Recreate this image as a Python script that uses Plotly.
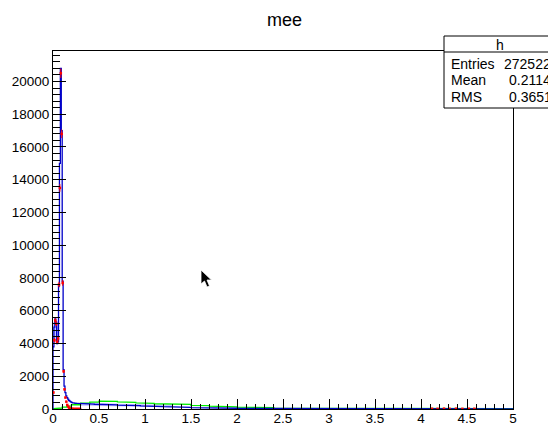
import plotly.graph_objects as go

# ---------------- data ----------------
# fine bins (width 0.01) from 0 to 0.30
fine_edges = [round(i * 0.01, 2) for i in range(31)]
blue_fine = [3800, 5000, 5500, 5300, 4000, 4100, 7500, 15000, 20800, 17000,
             7800, 2400, 1400, 1000, 800, 700, 600, 520, 480, 440,
             400, 380, 370, 360, 350, 340, 340, 330, 330, 320]
red_fine = [1000, 4200, 5400, 5200, 4100, 4300, 7600, 13500, 20500, 16800,
            7700, 2300, 1200, 700, 450, 250, 150, 80, 40, 20,
            10, 5, 0, 0, 0, 0, 0, 0, 0, 0]
# coarse bins (width 0.05) from 0.30 to 5.00
coarse_edges = [round(0.30 + i * 0.05, 2) for i in range(95)]
blue_coarse = [330, 310, 300, 290,
               280, 270, 260, 250, 240, 230, 220, 210, 200, 190,
               180, 170, 160, 150, 140, 130, 120, 110, 100, 95,
               90, 85, 80, 75, 70, 65, 60, 55, 50, 45,
               40, 38, 36, 34, 32, 30, 28, 26, 24, 22,
               20, 20, 19, 18, 18, 17, 16, 16, 15, 15,
               14, 14, 13, 13, 12, 12, 11, 11, 10, 10,
               10, 9, 9, 9, 8, 8, 8, 7, 7, 7,
               7, 6, 6, 6, 6, 6, 5, 5, 5, 5,
               5, 5, 4, 4, 4, 4, 4, 4, 4, 4]
green_edges = [0.0, 0.05, 0.1, 0.15, 0.2, 0.3, 0.4, 0.5, 0.6, 0.7, 0.8, 0.9, 1.0,
               1.1, 1.2, 1.3, 1.4, 1.5, 1.6, 1.7, 1.8, 1.9, 2.0, 2.2, 2.4,
               2.6, 3.0, 3.5, 4.0, 4.5, 5.0]
green_vals = [20, 60, 110, 180, 260, 350, 420, 480, 470, 430, 400, 370, 340,
              320, 310, 300, 280, 220, 200, 170, 150, 130, 110, 80, 50,
              35, 30, 25, 20, 15]
# light blue band (two regions)
band1_edges = [0.0, 0.01, 0.02, 0.03, 0.04, 0.05, 0.06]
band1_lo = [3900, 4000, 4100, 4000, 3900, 4000]
band1_hi = [5300, 5500, 5600, 5400, 5200, 5000]
band2_edges = [0.3, 0.4, 0.5, 0.6, 0.7, 0.8, 0.9, 1.0, 1.1, 1.2, 1.3]
band2_lo = [200, 190, 180, 170, 160, 150, 140, 130, 120, 110]
band2_hi = [380, 360, 350, 340, 320, 300, 290, 280, 270, 260]
# red points near zero at high mass
red_tail_x = [4.12, 4.18, 4.25, 4.31, 4.38, 4.45, 4.52, 4.58]
red_tail_y = [15, 10, 20, 12, 18, 10, 15, 12]

x_ticks = [0, 0.5, 1, 1.5, 2, 2.5, 3, 3.5, 4, 4.5, 5]
x_ticklabels = ["0", "0.5", "1", "1.5", "2", "2.5", "3", "3.5", "4", "4.5", "5"]
y_ticks = list(range(0, 20001, 2000))
y_ticklabels = [str(v) for v in y_ticks]

stats_name = "h"
stats_labels = ["Entries", "Mean", "RMS"]
stats_values = ["272522", "0.2114", "0.3651"]
title = "mee"

# ---------------- helpers ----------------
def step(edges, vals):
    xs, ys = [], []
    for i, v in enumerate(vals):
        xs += [edges[i], edges[i + 1]]
        ys += [v, v]
    return xs, ys

W, H = 548, 426
L, R, T, B = 53, 35, 51, 17
PW, PH = W - L - R, H - T - B

def px(x):
    return (x - L) / PW

def py(y):
    return (H - B - y) / PH

FONT = "Liberation Sans, Arial"

fig = go.Figure()

# light blue bands
for edges, lo, hi in [(band1_edges, band1_lo, band1_hi), (band2_edges, band2_lo, band2_hi)]:
    xl, yl = step(edges, lo)
    xh, yh = step(edges, hi)
    fig.add_trace(go.Scatter(x=xh + xl[::-1], y=yh + yl[::-1], fill="toself",
                             fillcolor="rgba(150,150,255,0.55)", line=dict(width=0),
                             mode="lines", hoverinfo="skip", showlegend=False))

# green
gx, gy = step(green_edges, green_vals)
fig.add_trace(go.Scatter(x=gx, y=gy, mode="lines", line=dict(color="#00ee00", width=1.3),
                         showlegend=False))

# blue histogram
bx1, by1 = step(fine_edges, blue_fine)
bx2, by2 = step(coarse_edges, blue_coarse)
fig.add_trace(go.Scatter(x=[0] + bx1 + bx2, y=[0] + by1 + by2, mode="lines",
                         line=dict(color="#0000c8", width=1.3), showlegend=False))

# red error points
rx = [(fine_edges[i] + fine_edges[i + 1]) / 2 for i in range(len(red_fine))]
rerr = [max(v, 1) ** 0.5 * 2 for v in red_fine]
fig.add_trace(go.Scatter(x=rx + red_tail_x, y=red_fine + red_tail_y, mode="markers",
                         marker=dict(color="#ff0000", size=2.5, symbol="square"),
                         error_y=dict(type="data", array=rerr + [8] * len(red_tail_x),
                                      color="#ff0000", thickness=1, width=0),
                         showlegend=False))

axis_common = dict(showgrid=False, zeroline=False, showline=True, linecolor="black",
                   linewidth=1, mirror=True, ticks="inside", tickcolor="black",
                   automargin=False,
                   tickfont=dict(family=FONT, size=13.5, color="black"))

fig.update_xaxes(range=[0, 5], tickvals=x_ticks, ticktext=x_ticklabels, ticklen=10,
                 ticklabelstandoff=-3,
                 minor=dict(dtick=0.1, ticks="inside", ticklen=5, tickcolor="black"),
                 **axis_common)
fig.update_yaxes(range=[0, 21860], tickvals=y_ticks, ticktext=y_ticklabels, ticklen=13,
                 minor=dict(dtick=400, ticks="inside", ticklen=7, tickcolor="black"),
                 **axis_common)

# stats box
BOX_L, BOX_R, BOX_T, BOX_H, BOX_B = 444, 570, 36, 52, 108
shapes = [
    dict(type="rect", xref="paper", yref="paper", x0=px(BOX_L), x1=px(BOX_R),
         y0=py(BOX_B), y1=py(BOX_T),
         line=dict(color="black", width=1), fillcolor="white", layer="above"),
    dict(type="line", xref="paper", yref="paper", x0=px(BOX_L), x1=px(BOX_R),
         y0=py(BOX_H), y1=py(BOX_H),
         line=dict(color="black", width=1), layer="above"),
]
# mouse cursor
cur = [(201, 270), (201, 284), (204.5, 281), (207, 287), (209.5, 286), (207, 280), (211.5, 280)]
path = "M " + " L ".join(f"{px(a)},{py(b)}" for a, b in cur) + " Z"
shapes.append(dict(type="path", xref="paper", yref="paper", path=path,
                   fillcolor="black", line=dict(color="white", width=0.8), layer="above"))

annots = [dict(text=title, x=px(284), y=py(20), xref="paper", yref="paper", showarrow=False,
               font=dict(family=FONT, size=18, color="black"),
               xanchor="center", yanchor="middle"),
          dict(text=stats_name, x=px(500), y=py(45), xref="paper", yref="paper", showarrow=False,
               font=dict(family=FONT, size=14, color="black"),
               xanchor="center", yanchor="middle")]
rows_y = [64, 80, 96.5]
vals_x = [502, 507, 507]
for lab, val, yy, vx in zip(stats_labels, stats_values, rows_y, vals_x):
    annots.append(dict(text=lab, x=px(449), y=py(yy), xref="paper", yref="paper", showarrow=False,
                       font=dict(family=FONT, size=14, color="black"),
                       xanchor="left", yanchor="middle"))
    annots.append(dict(text=val, x=px(vx), y=py(yy), xref="paper", yref="paper", showarrow=False,
                       font=dict(family=FONT, size=14, color="black"),
                       xanchor="left", yanchor="middle"))

fig.update_layout(width=W, height=H, margin=dict(l=L, r=R, t=T, b=B, autoexpand=False),
                  paper_bgcolor="white", plot_bgcolor="white",
                  shapes=shapes, annotations=annots, showlegend=False)

fig.write_html("out.html")
